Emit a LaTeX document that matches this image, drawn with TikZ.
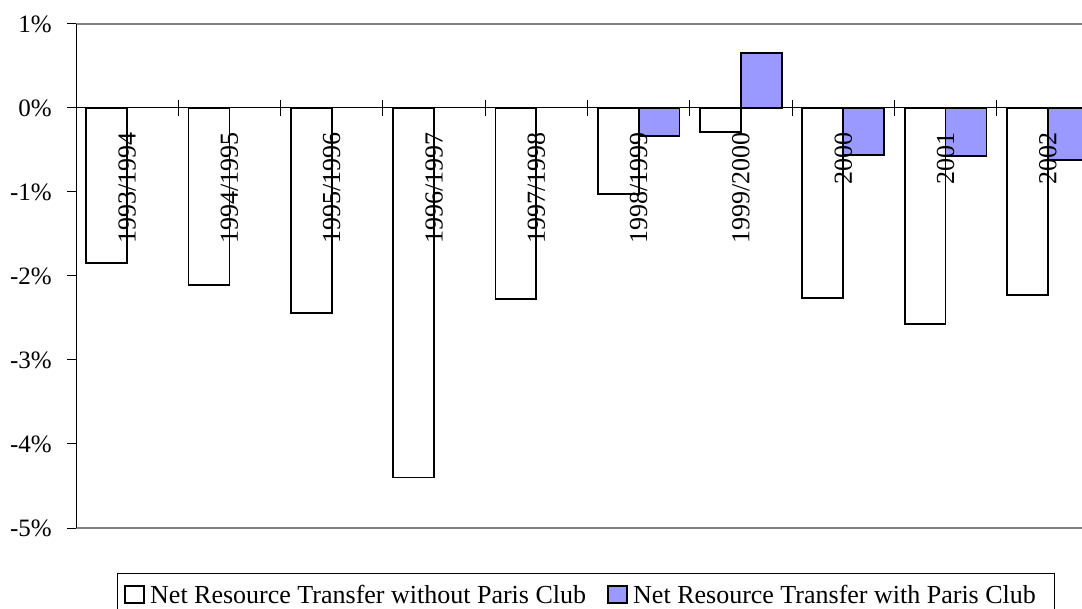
\documentclass[tikz,border=0pt]{standalone}
\usepackage{fontspec}
\setmainfont{Liberation Serif}
\definecolor{barblue}{HTML}{9999FF}
\definecolor{gridgrey}{HTML}{808080}
\newcommand\mywbar[2]{\draw[wbarsty] ({76+102.3*#1+10.2},108) rectangle ({76+102.3*#1+51.1},{108-84*#2});}
\newcommand\mybbar[2]{\draw[bbarsty] ({76+102.3*#1+51.1},108) rectangle ({76+102.3*#1+92},{108-84*#2});}
\begin{document}
\begin{tikzpicture}[x=1pt,y=-1pt,
  wbarsty/.style={draw=black,line width=1.8pt,fill=white},
  bbarsty/.style={draw=black,line width=1.8pt,fill=barblue},
  axissty/.style={draw=black,line width=1pt},
  gridsty/.style={draw=gridgrey,line width=2pt},
  catlab/.style={rotate=90,anchor=east,inner sep=0pt,font=\fontsize{26}{26}\selectfont},
  ylab/.style={anchor=east,inner sep=0pt,font=\fontsize{25}{25}\selectfont},
  legtext/.style={anchor=base west,inner sep=0pt,font=\fontsize{26}{26}\selectfont},
  legbox/.style={draw=black,line width=1.8pt}]
\useasboundingbox (0,0) rectangle (1082,609);
\begin{scope}
\clip (0,0) rectangle (1082,609);
% plot frame lines
\draw[gridsty] (76,24) -- (1082,24);
\draw[gridsty] (76,528) -- (1082,528);
% zero line and ticks
\draw[axissty] (67,108) -- (1082,108);
\foreach \k in {1,...,9} \draw[axissty] ({76+102.3*\k},100) -- ({76+102.3*\k},116);
% y axis
\draw[axissty] (76,24) -- (76,528);
\foreach \k in {-5,...,1} \draw[axissty] (67,{108-84*\k}) -- (76,{108-84*\k});
\node[ylab] (y1) at (52,24) {1\%};
\node[ylab] (y0) at (52,108) {0\%};
\node[ylab] (ym1) at (52,192) {-1\%};
\node[ylab] (ym2) at (52,276) {-2\%};
\node[ylab] (ym3) at (52,360) {-3\%};
\node[ylab] (ym4) at (52,444) {-4\%};
\node[ylab] (ym5) at (52,528) {-5\%};
% bars
\mywbar{0}{-1.85}
\mywbar{1}{-2.11}
\mywbar{2}{-2.44}
\mywbar{3}{-4.40}
\mywbar{4}{-2.27}
\mywbar{5}{-1.02}
\mybbar{5}{-0.33}
\mywbar{6}{-0.29}
\mybbar{6}{0.65}
\mywbar{7}{-2.26}
\mybbar{7}{-0.56}
\mywbar{8}{-2.57}
\mybbar{8}{-0.57}
\mywbar{9}{-2.23}
\mybbar{9}{-0.62}
% category labels
\node[catlab] (c0) at ({76+102.3*0.5},132) {1993/1994};
\node[catlab] (c1) at ({76+102.3*1.5},132) {1994/1995};
\node[catlab] (c2) at ({76+102.3*2.5},132) {1995/1996};
\node[catlab] (c3) at ({76+102.3*3.5},132) {1996/1997};
\node[catlab] (c4) at ({76+102.3*4.5},132) {1997/1998};
\node[catlab] (c5) at ({76+102.3*5.5},132) {1998/1999};
\node[catlab] (c6) at ({76+102.3*6.5},132) {1999/2000};
\node[catlab] (c7) at ({76+102.3*7.5},132) {2000};
\node[catlab] (c8) at ({76+102.3*8.5},132) {2001};
\node[catlab] (c9) at ({76+102.3*9.5},132) {2002};
% legend
\draw[draw=black,line width=1pt] (117,573) rectangle (1054,620);
\draw[legbox,fill=white] (125,586) rectangle (144,603);
\node[legtext] (l1) at (150,603) {Net Resource Transfer without Paris Club};
\draw[legbox,fill=barblue] (608,586) rectangle (627,603);
\node[legtext] (l2) at (633,603) {Net Resource Transfer with Paris Club};
\end{scope}
\end{tikzpicture}
\end{document}
